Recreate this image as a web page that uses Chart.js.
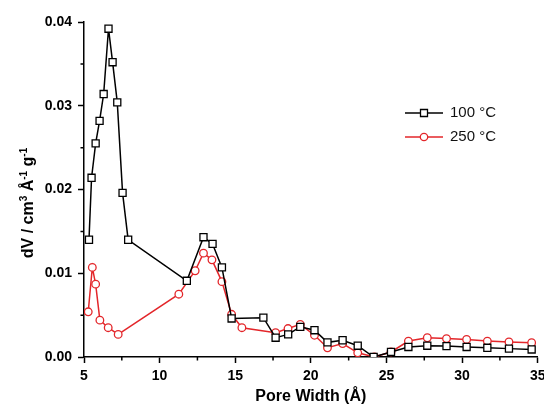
<!DOCTYPE html>
<html>
<head>
<meta charset="utf-8">
<script src="https://cdn.jsdelivr.net/npm/chart.js@4/dist/chart.umd.min.js"></script>
<style>
  html, body { margin: 0; padding: 0; background: #fff; overflow: hidden; }
  #wrap { width: 544px; height: 411px; }
</style>
</head>
<body>
<div id="wrap"><canvas id="c" width="544" height="411"></canvas></div>
<script>
// ---- data ----
const poreWidth100 = [5.33, 5.5, 5.77, 6.03, 6.3, 6.62, 6.89, 7.2, 7.55, 7.92, 11.8, 12.9, 13.5, 14.12, 14.76, 16.86, 17.67, 18.5, 19.3, 20.24, 21.1, 22.1, 23.1, 24.15, 25.3, 26.45, 27.7, 28.97, 30.3, 31.67, 33.1, 34.6];
const dv100 = [0.0140, 0.0214, 0.0255, 0.0282, 0.0314, 0.0392, 0.0352, 0.0304, 0.0196, 0.0140, 0.0091, 0.0143, 0.0135, 0.0107, 0.0046, 0.0047, 0.0023, 0.0027, 0.0036, 0.0032, 0.00175, 0.0020, 0.00135, 0.0000, 0.0006, 0.0012, 0.00135, 0.0013, 0.0012, 0.0011, 0.0010, 0.0009];
const poreWidth250 = [5.28, 5.55, 5.77, 6.05, 6.6, 7.26, 11.27, 12.35, 12.9, 13.46, 14.12, 14.76, 15.44, 17.67, 18.49, 19.3, 20.24, 21.1, 22.1, 23.1, 24.2, 25.3, 26.45, 27.7, 28.97, 30.3, 31.67, 33.1, 34.6];
const dv250 = [0.0054, 0.0107, 0.0087, 0.0044, 0.0035, 0.0027, 0.0075, 0.0103, 0.0124, 0.0116, 0.0090, 0.0051, 0.0035, 0.0029, 0.0034, 0.0039, 0.0026, 0.0011, 0.0016, 0.0005, 0.0000, 0.0006, 0.0019, 0.0023, 0.0022, 0.0021, 0.0019, 0.0018, 0.0017];
const seriesLabels = ['100 °C', '250 °C'];
const xTicks = [5, 10, 15, 20, 25, 30, 35];
const yTicks = [0.00, 0.01, 0.02, 0.03, 0.04];
const xTitle = 'Pore Width (Å)';

const RED = '#e3262a';
const toPts = (xs, ys) => xs.map((x, i) => ({ x: x, y: ys[i] }));

const overlay = {
  id: 'overlay',
  afterDraw(chart) {
    const ctx = chart.ctx;
    const xs = chart.scales.x, ys = chart.scales.y;
    const a = chart.chartArea;
    ctx.save();
    // minor ticks
    ctx.strokeStyle = '#000';
    ctx.lineWidth = 1.5;
    ctx.beginPath();
    for (let i = 0; i < xTicks.length - 1; i++) {
      const v = (xTicks[i] + xTicks[i + 1]) / 2;
      const px = xs.getPixelForValue(v);
      ctx.moveTo(px, a.bottom); ctx.lineTo(px, a.bottom + 3.5);
    }
    for (let i = 0; i < yTicks.length - 1; i++) {
      const v = (yTicks[i] + yTicks[i + 1]) / 2;
      const py = ys.getPixelForValue(v);
      ctx.moveTo(a.left, py); ctx.lineTo(a.left - 3.5, py);
    }
    ctx.stroke();

    // x title
    ctx.fillStyle = '#000';
    ctx.font = 'bold 16px "Liberation Sans", Arial, sans-serif';
    ctx.textAlign = 'center';
    ctx.textBaseline = 'middle';
    ctx.fillText(xTitle, (a.left + a.right) / 2, 397);

    // y title with superscripts
    const parts = [
      ['dV / cm', false], ['3', true], [' Å', false], ['-1', true], [' g', false], ['-1', true]
    ];
    const big = 'bold 16px "Liberation Sans", Arial, sans-serif';
    const small = 'bold 10px "Liberation Sans", Arial, sans-serif';
    let total = 0;
    parts.forEach(p => { ctx.font = p[1] ? small : big; total += ctx.measureText(p[0]).width; });
    ctx.translate(27, 203);
    ctx.rotate(-Math.PI / 2);
    ctx.textAlign = 'left';
    ctx.textBaseline = 'alphabetic';
    let cx = -total / 2;
    parts.forEach(p => {
      ctx.font = p[1] ? small : big;
      ctx.fillText(p[0], cx, p[1] ? 0 : 6);
      cx += ctx.measureText(p[0]).width;
    });
    ctx.setTransform(1, 0, 0, 1, 0, 0);
    ctx.restore();

    // legend
    ctx.save();
    const rows = [113, 137];
    chart.data.datasets.forEach((ds, i) => {
      const y = rows[i];
      ctx.strokeStyle = ds.borderColor;
      ctx.lineWidth = 1.5;
      ctx.beginPath(); ctx.moveTo(405, y); ctx.lineTo(443, y); ctx.stroke();
      ctx.fillStyle = '#fff';
      ctx.lineWidth = 1.3;
      ctx.beginPath();
      if (i === 0) { ctx.rect(420.5, y - 3.5, 7, 7); }
      else { ctx.arc(424, y, 3.7, 0, Math.PI * 2); }
      ctx.fill(); ctx.stroke();
      ctx.fillStyle = '#111';
      ctx.font = '15px "Liberation Sans", Arial, sans-serif';
      ctx.textAlign = 'left';
      ctx.textBaseline = 'middle';
      ctx.fillText(seriesLabels[i], 450, y);
    });
    ctx.restore();
  }
};

new Chart(document.getElementById('c'), {
  type: 'scatter',
  data: {
    datasets: [
      {
        label: seriesLabels[0],
        data: toPts(poreWidth100, dv100),
        showLine: true,
        borderColor: '#000',
        borderWidth: 1.5,
        pointStyle: 'rect',
        pointRadius: 5,
        pointBackgroundColor: '#fff',
        pointBorderColor: '#000',
        pointBorderWidth: 1.3,
        tension: 0
      },
      {
        label: seriesLabels[1],
        data: toPts(poreWidth250, dv250),
        showLine: true,
        borderColor: RED,
        borderWidth: 1.5,
        pointStyle: 'circle',
        pointRadius: 3.8,
        pointBackgroundColor: '#fff',
        pointBorderColor: RED,
        pointBorderWidth: 1.3,
        tension: 0
      }
    ]
  },
  options: {
    responsive: false,
    animation: false,
    layout: { padding: { left: 0, right: 4, top: 22, bottom: 0 } },
    plugins: { legend: { display: false }, tooltip: { enabled: false } },
    scales: {
      x: {
        type: 'linear',
        min: 5, max: 35,
        afterBuildTicks: s => { s.ticks = xTicks.map(v => ({ value: v })); },
        ticks: {
          callback: v => String(v),
          font: { family: '"Liberation Sans", Arial, sans-serif', size: 14, weight: 'bold' },
          color: '#000',
          padding: 5,
          maxRotation: 0,
          autoSkip: false
        },
        grid: { drawOnChartArea: false, drawTicks: true, tickLength: 6, tickColor: '#000', tickWidth: 1.5 },
        border: { display: true, color: '#000', width: 1.5 },
        afterFit: s => { s.height = 54; s.paddingLeft = 0; s.paddingRight = 0; }
      },
      y: {
        min: 0, max: 0.04,
        afterBuildTicks: s => { s.ticks = yTicks.map(v => ({ value: v })); },
        ticks: {
          callback: v => Number(v).toFixed(2),
          font: { family: '"Liberation Sans", Arial, sans-serif', size: 14, weight: 'bold' },
          color: '#000',
          padding: 6,
          autoSkip: false
        },
        grid: { drawOnChartArea: false, drawTicks: true, tickLength: 6, tickColor: '#000', tickWidth: 1.5 },
        border: { display: true, color: '#000', width: 1.5 },
        afterFit: s => { s.width = 84; s.paddingTop = 0; s.paddingBottom = 0; }
      }
    }
  },
  plugins: [overlay]
});
</script>
</body>
</html>
